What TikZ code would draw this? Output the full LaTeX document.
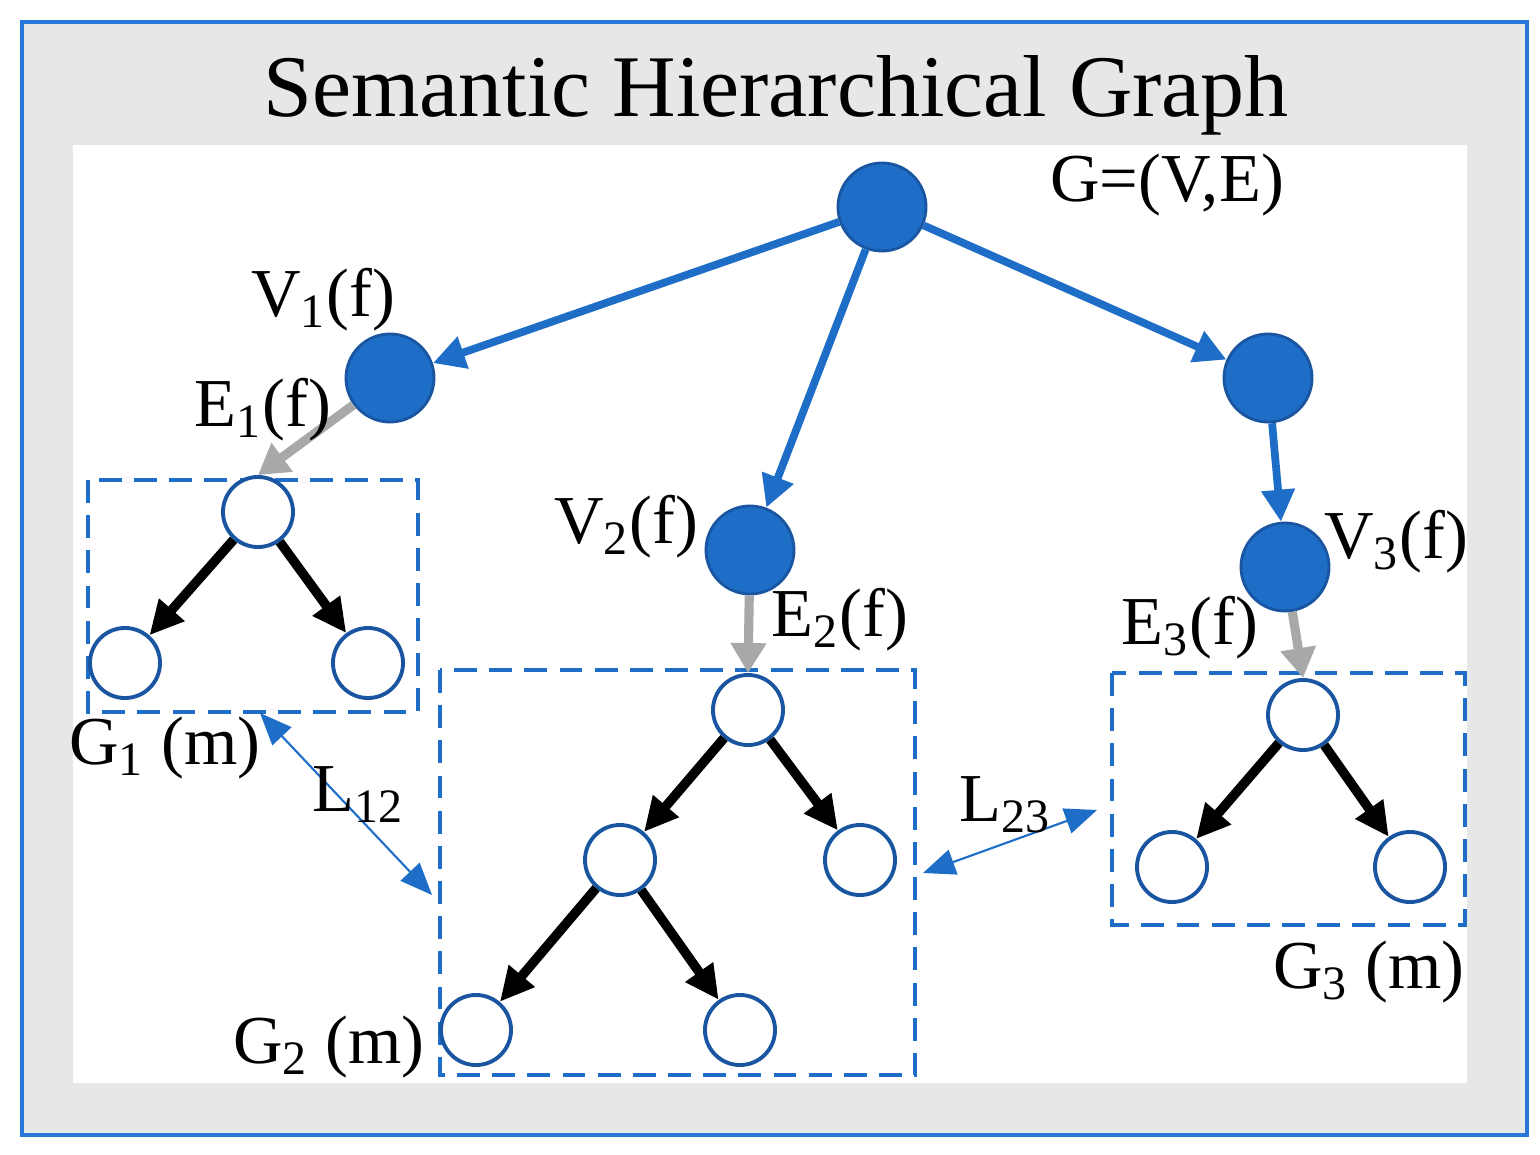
\documentclass[tikz,border=0pt]{standalone}
\usepackage{fontspec}
\setmainfont{Liberation Serif}
\usetikzlibrary{arrows.meta}
\definecolor{frameblue}{RGB}{40,120,215}
\definecolor{nodeblue}{RGB}{30,110,200}
\definecolor{rimblue}{RGB}{25,85,160}
\definecolor{edgegray}{RGB}{168,168,168}
\definecolor{panelgray}{RGB}{231,231,231}
\tikzset{
  fnode/.style={circle,fill=nodeblue,draw=rimblue,line width=0.8pt,minimum size=0.88cm,inner sep=0pt},
  onode/.style={circle,fill=white,draw=rimblue,line width=1.1pt,minimum size=0.70cm,inner sep=0pt},
  tree/.style={-{Triangle[length=0.32cm,width=0.32cm]},nodeblue,line width=2.2pt},
  down/.style={-{Triangle[length=0.30cm,width=0.34cm]},edgegray,line width=2.6pt},
  sub/.style={-{Triangle[length=0.34cm,width=0.32cm]},black,line width=2.7pt},
  link/.style={{Triangle[length=0.32cm,width=0.26cm]}-{Triangle[length=0.32cm,width=0.26cm]},nodeblue,line width=0.6pt},
  groupbox/.style={draw=nodeblue,dash pattern=on 6.5pt off 3.5pt,line width=1.1pt},
  lbl/.style={font=\fontsize{19.5}{24}\selectfont,inner sep=0pt}
}
\begin{document}
\begin{tikzpicture}[x=0.01cm,y=-0.01cm]
  \useasboundingbox (0,0) rectangle (1540,1155);
  \fill[panelgray] (22,22) rectangle (1527,1135);
  \draw[frameblue,line width=1.1pt] (22,22) rectangle (1527,1135);
  \fill[white] (73,145) rectangle (1467,1083);
  \node[font=\fontsize{25}{30}\selectfont,inner sep=0pt,anchor=base] (title) at (776,117) {Semantic Hierarchical Graph};

  % feature level
  \node[fnode] (root) at (882,207) {};
  \node[fnode] (vone) at (390,378) {};
  \node[fnode] (vright) at (1268,378) {};
  \node[fnode] (vtwo) at (750,550) {};
  \node[fnode] (vthree) at (1285,567) {};
  \draw[tree] (root) -- (vone);
  \draw[tree] (root) -- (vtwo);
  \draw[tree] (root) -- (vright);
  \draw[tree] (vright) -- (vthree);

  % member graphs
  \draw[groupbox] (88,480) rectangle (418,712);
  \draw[groupbox] (440,670) rectangle (915,1075);
  \draw[groupbox] (1112,673) rectangle (1465,925);
  \coordinate (gonecorner) at (260,713);
  \coordinate (gtwoleft) at (432,895);
  \coordinate (gtworight) at (923,873);
  \coordinate (gthreeleft) at (1097,810);

  \node[onode] (g1t) at (258,512) {};
  \node[onode] (g1l) at (125,663) {};
  \node[onode] (g1r) at (368,663) {};
  \node[onode] (g2t) at (748,710) {};
  \node[onode] (g2a) at (620,860) {};
  \node[onode] (g2b) at (860,860) {};
  \node[onode] (g2c) at (476,1030) {};
  \node[onode] (g2d) at (740,1030) {};
  \node[onode] (g3t) at (1303,715) {};
  \node[onode] (g3l) at (1172,867) {};
  \node[onode] (g3r) at (1410,867) {};
  \foreach \a/\b in {g1t/g1l,g1t/g1r,g2t/g2a,g2t/g2b,g2a/g2c,g2a/g2d,g3t/g3l,g3t/g3r}
    \draw[sub] (\a) -- (\b);

  \draw[down] (vone) -- (g1t.north);
  \draw[down] (vtwo) -- (g2t.north);
  \draw[down] (vthree) -- (g3t.north);
  \draw[link] (gonecorner) -- (gtwoleft);
  \draw[link] (gtworight) -- (gthreeleft);

  % labels
  \node[lbl] (lg) at (1167,185) {G=(V,E)};
  \node[lbl] (lv1) at (323,300) {V\textsubscript{1}(f)};
  \node[lbl] (le1) at (263,410) {E\textsubscript{1}(f)};
  \node[lbl] (lv2) at (626,527) {V\textsubscript{2}(f)};
  \node[lbl] (le2) at (840,620) {E\textsubscript{2}(f)};
  \node[lbl] (lv3) at (1396,542) {V\textsubscript{3}(f)};
  \node[lbl] (le3) at (1190,628) {E\textsubscript{3}(f)};
  \node[lbl] (lg1) at (165,748) {G\textsubscript{1} (m)};
  \node[lbl] (lg2) at (329,1047) {G\textsubscript{2} (m)};
  \node[lbl] (lg3) at (1369,972) {G\textsubscript{3} (m)};
  \node[lbl] (ll12) at (358,795) {L\textsubscript{12}};
  \node[lbl] (ll23) at (1005,805) {L\textsubscript{23}};
\end{tikzpicture}
\end{document}
